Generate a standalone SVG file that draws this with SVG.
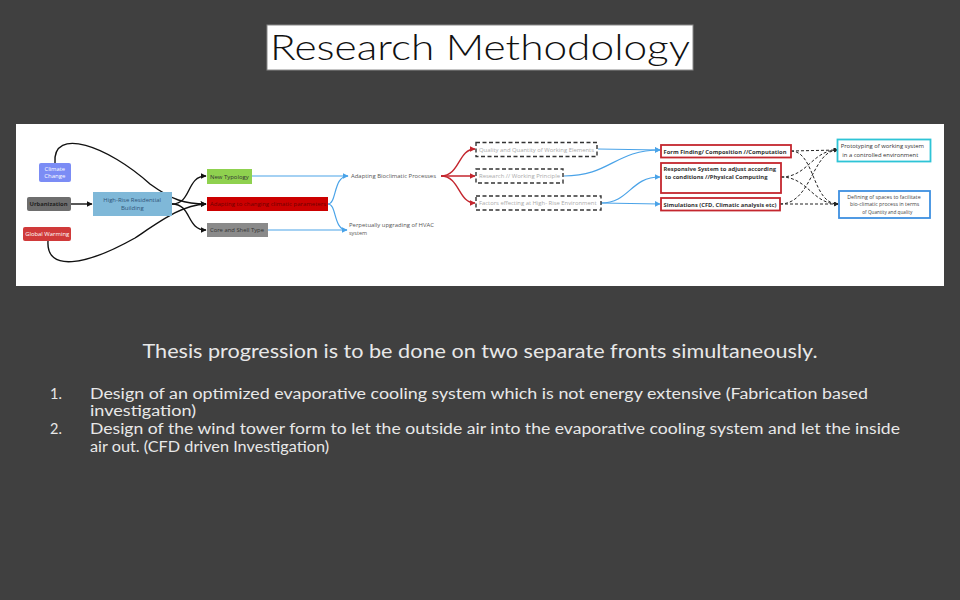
<svg xmlns="http://www.w3.org/2000/svg" width="960" height="600" viewBox="0 0 960 600">
<defs>
<style>
.f{font-family:"Open Sans","Liberation Sans",sans-serif;}
.g{font-family:"Lato","Liberation Sans",sans-serif;}
.bk{fill:none;stroke:#111;stroke-width:1.4;}
.bl{fill:none;stroke:#4aa3e8;stroke-width:1.2;}
.rd{fill:none;stroke:#c4262e;stroke-width:1.4;}
.dd{fill:none;stroke:#222;stroke-width:1;stroke-dasharray:3 2;}
.dbox{fill:#fff;stroke:#333;stroke-width:1.4;stroke-dasharray:4 2.5;}
.rbox{fill:#fff;stroke:#c4262e;stroke-width:1.8;}
.s{font-size:5.8px;}
.lt{fill:#e8e8e8;}
</style>
<marker id="ak" viewBox="0 0 10 10" refX="9" refY="5" markerWidth="6" markerHeight="6" markerUnits="userSpaceOnUse" orient="auto"><path d="M0,0 L10,5 L0,10 z" fill="#111"/></marker>
<marker id="ab" viewBox="0 0 10 10" refX="9" refY="5" markerWidth="6" markerHeight="6" markerUnits="userSpaceOnUse" orient="auto"><path d="M0,0 L10,5 L0,10 z" fill="#4aa3e8"/></marker>
<marker id="ar" viewBox="0 0 10 10" refX="9" refY="5" markerWidth="6" markerHeight="6" markerUnits="userSpaceOnUse" orient="auto"><path d="M0,0 L10,5 L0,10 z" fill="#c4262e"/></marker>
<marker id="ad" viewBox="0 0 10 10" refX="9" refY="5" markerWidth="5" markerHeight="5" markerUnits="userSpaceOnUse" orient="auto"><path d="M0,0 L10,5 L0,10 z" fill="#222"/></marker>
</defs>
<rect x="0" y="0" width="960" height="600" fill="#404040"/>

<g id="title">
<rect x="267" y="25" width="426" height="45" fill="#fff" stroke="#888" stroke-width="1"/>
<text x="480" y="60" text-anchor="middle" class="g" font-size="35" font-weight="300" fill="#111" textLength="420" lengthAdjust="spacingAndGlyphs">Research Methodology</text>
</g>

<rect x="16" y="124" width="928" height="162" fill="#fff"/>

<g id="connectors">
<path class="bk" d="M71,204 L92,204" marker-end="url(#ak)"/>
<path class="bk" d="M55,163 C52,126 108,146 150,184 C172,200 185,204 206,204" marker-end="url(#ak)"/>
<path class="bk" d="M48,241 C46,272 85,266 135,238 C162,220 182,205 206,204" marker-end="url(#ak)"/>
<path class="bk" d="M172,204 C192,204 186,176 206,176" marker-end="url(#ak)"/>
<path class="bk" d="M172,204 C192,204 186,230 206,230" marker-end="url(#ak)"/>
<path class="bl" d="M252,176 L348,176" marker-end="url(#ab)"/>
<path class="bl" d="M268,230 L347,230" marker-end="url(#ab)"/>
<path class="bl" d="M328,204 C337,204 333,176 348,176"/>
<path class="bl" d="M328,204 C337,204 333,230 347,230"/>
<path class="rd" d="M441,176 C460,176 458,149 475,149" marker-end="url(#ar)"/>
<path class="rd" d="M441,176 L475,176" marker-end="url(#ar)"/>
<path class="rd" d="M441,176 C460,176 458,203 475,203" marker-end="url(#ar)"/>
<path class="bl" d="M598,149 L660,150" marker-end="url(#ab)"/>
<path class="bl" d="M564,176 C610,176 615,150 660,150" marker-end="url(#ab)"/>
<path class="bl" d="M601,203 L660,204" marker-end="url(#ab)"/>
<path class="bl" d="M601,203 C630,203 630,177 660,177" marker-end="url(#ab)"/>
<path class="dd" d="M791,151 L838,150" marker-end="url(#ad)"/>
<path class="dd" d="M791,151 C815,151 812,204 838,204" marker-end="url(#ad)"/>
<path class="dd" d="M781,177 C808,177 812,150 838,150" marker-end="url(#ad)"/>
<path class="dd" d="M781,177 C808,177 812,204 838,204" marker-end="url(#ad)"/>
<path class="dd" d="M780,204 L838,204" marker-end="url(#ad)"/>
<path class="dd" d="M780,204 C812,204 812,150 838,150" marker-end="url(#ad)"/>
</g>

<g id="climate-change">
<rect x="39" y="163" width="32" height="19" rx="2" fill="#7b8cf5"/>
<text x="44.5" y="170.5" class="f s" fill="#fff" textLength="20.5" lengthAdjust="spacingAndGlyphs">Climate</text>
<text x="44.3" y="178.3" class="f s" fill="#fff" textLength="21" lengthAdjust="spacingAndGlyphs">Change</text>
</g>
<g id="urbanization">
<rect x="27" y="197" width="44" height="14" rx="2" fill="#6e6e6e"/>
<text x="29.5" y="206.2" class="f s" font-weight="bold" fill="#222" textLength="38" lengthAdjust="spacingAndGlyphs">Urbanization</text>
</g>
<g id="global-warming">
<rect x="23" y="227" width="48" height="14" rx="2" fill="#d03a3a"/>
<text x="25.2" y="236.2" class="f s" fill="#fff" textLength="44" lengthAdjust="spacingAndGlyphs">Global Warming</text>
</g>
<g id="high-rise">
<rect x="93" y="192" width="79" height="24" fill="#7fb8d8"/>
<text x="103.3" y="202" class="f s" fill="#2f5478" textLength="57.7" lengthAdjust="spacingAndGlyphs">High-Rise Residential</text>
<text x="121" y="209.8" class="f s" fill="#2f5478" textLength="22.7" lengthAdjust="spacingAndGlyphs">Building</text>
</g>
<g id="new-typology">
<rect x="207" y="169" width="45" height="15" fill="#8fd14f"/>
<text x="210" y="178.5" class="f s" fill="#333" textLength="38.7" lengthAdjust="spacingAndGlyphs">New Typology</text>
</g>
<g id="adapting-climatic">
<rect x="207" y="197" width="121" height="14" fill="#cc0000"/>
<text x="210" y="206.2" class="f s" fill="#6e0000" textLength="116" lengthAdjust="spacingAndGlyphs">Adapting to changing climatic parameters</text>
</g>
<g id="core-shell">
<rect x="207" y="223" width="61" height="14" fill="#8a8a8a"/>
<text x="210" y="232.2" class="f s" fill="#333" textLength="54" lengthAdjust="spacingAndGlyphs">Core and Shell Type</text>
</g>
<g id="adapting-bioclimatic">
<text x="351" y="178" class="f s" fill="#555" textLength="85" lengthAdjust="spacingAndGlyphs">Adapting Bioclimatic Processes</text>
</g>
<g id="hvac">
<text x="349" y="227.3" class="f s" fill="#555" textLength="85" lengthAdjust="spacingAndGlyphs">Perpetually upgrading of HVAC</text>
<text x="349" y="235.3" class="f s" fill="#555" textLength="18" lengthAdjust="spacingAndGlyphs">system</text>
</g>
<g id="quality-quantity">
<rect x="476" y="142.5" width="121" height="14" class="dbox"/>
<text x="479" y="151.7" class="f s" fill="#aaa" textLength="115" lengthAdjust="spacingAndGlyphs">Quality and Quantity of Working Elements</text>
</g>
<g id="research-principle">
<rect x="476" y="169" width="87" height="14" class="dbox"/>
<text x="479" y="178.2" class="f s" fill="#aaa" textLength="81" lengthAdjust="spacingAndGlyphs">Research // Working Principle</text>
</g>
<g id="factors">
<rect x="476" y="196" width="125" height="14" class="dbox"/>
<text x="479" y="205.2" class="f s" fill="#aaa" textLength="117.5" lengthAdjust="spacingAndGlyphs">Factors effecting at High- Rise Environment</text>
</g>
<g id="form-finding">
<rect x="661" y="145" width="130" height="12.5" class="rbox"/>
<text x="663.5" y="153.5" class="f s" font-weight="bold" fill="#333" textLength="123" lengthAdjust="spacingAndGlyphs">Form Finding/ Composition //Computation</text>
</g>
<g id="responsive">
<rect x="661" y="163" width="120" height="30" class="rbox"/>
<text x="663.5" y="171" class="f s" font-weight="bold" fill="#333" textLength="112.5" lengthAdjust="spacingAndGlyphs">Responsive System to adjust according</text>
<text x="665" y="179" class="f s" font-weight="bold" fill="#333" textLength="102.5" lengthAdjust="spacingAndGlyphs">to conditions //Physical Computing</text>
</g>
<g id="simulations">
<rect x="661" y="198" width="119" height="12.5" class="rbox"/>
<text x="663.5" y="206.5" class="f s" font-weight="bold" fill="#333" textLength="113" lengthAdjust="spacingAndGlyphs">Simulations (CFD, Climatic analysis etc)</text>
</g>
<g id="prototyping">
<rect x="837.5" y="139.5" width="93" height="22" fill="#fff" stroke="#2ec4d6" stroke-width="1.8"/>
<text x="840.7" y="148.3" class="f s" fill="#333" textLength="83.3" lengthAdjust="spacingAndGlyphs">Prototyping of working system</text>
<text x="842.3" y="156.5" class="f s" fill="#333" textLength="76" lengthAdjust="spacingAndGlyphs">in a controlled environment</text>
</g>
<g id="defining">
<rect x="839" y="191" width="91" height="27" fill="#fff" stroke="#3d8fe0" stroke-width="1.8"/>
<text x="847.3" y="198.5" class="f" font-size="5.2" fill="#444" textLength="73.3" lengthAdjust="spacingAndGlyphs">Defining of spaces to facilitate</text>
<text x="850" y="206" class="f" font-size="5.2" fill="#444" textLength="69.3" lengthAdjust="spacingAndGlyphs">bio-climatic process in terms</text>
<text x="862.3" y="213.5" class="f" font-size="5.2" fill="#444" textLength="50" lengthAdjust="spacingAndGlyphs">of Quantity and quality</text>
</g>

<g id="body-text">
<text x="480" y="358" text-anchor="middle" class="g lt" font-size="18.5" textLength="675" lengthAdjust="spacingAndGlyphs">Thesis progression is to be done on two separate fronts simultaneously.</text>
<text x="50" y="398.5" class="g lt" font-size="14.5">1.</text>
<text x="90" y="398.5" class="g lt" font-size="14.5" textLength="778" lengthAdjust="spacingAndGlyphs">Design of an optimized evaporative cooling system which is not energy extensive (Fabrication based</text>
<text x="90" y="416" class="g lt" font-size="14.5" textLength="106" lengthAdjust="spacingAndGlyphs">investigation)</text>
<text x="50" y="434" class="g lt" font-size="14.5">2.</text>
<text x="90" y="434" class="g lt" font-size="14.5" textLength="810" lengthAdjust="spacingAndGlyphs">Design of the wind tower form to let the outside air into the evaporative cooling system and let the inside</text>
<text x="90" y="452" class="g lt" font-size="14.5" textLength="239" lengthAdjust="spacingAndGlyphs">air out. (CFD driven Investigation)</text>
</g>
</svg>
